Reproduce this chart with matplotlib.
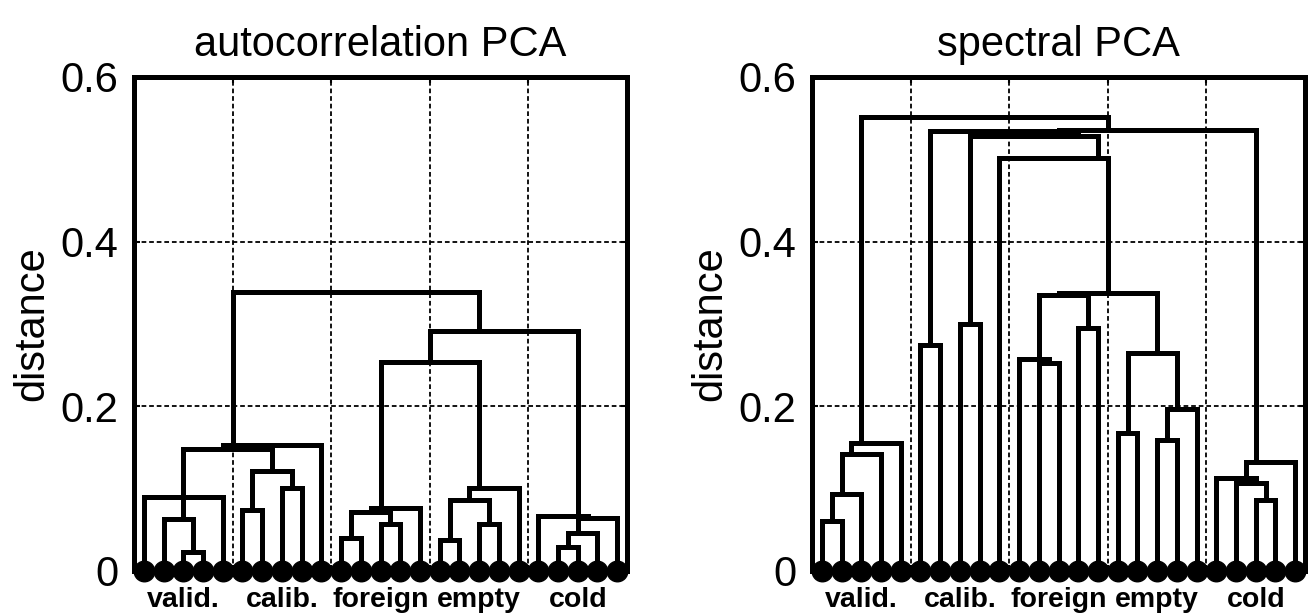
import numpy as np
import matplotlib.pyplot as plt

plt.rcParams["font.family"] = ["Liberation Sans", "DejaVu Sans"]

OUT_PATH = "out.png"

GROUPS = ["valid.", "calib.", "foreign", "empty", "cold"]
GROUP_SIZES = [5, 5, 5, 5, 5]
N_LEAVES = sum(GROUP_SIZES)

# linkage rows (child a, child b, distance); leaves are 1..25,
# merged clusters get ids 26, 27, ... in row order
AUTO_LINKS = [
    (3, 4, 0.023),     # 26
    (2, 26, 0.063),    # 27
    (1, 27, 0.0895),   # 28
    (28, 5, 0.0895),   # 29
    (6, 7, 0.074),     # 30
    (8, 9, 0.100),     # 31
    (30, 31, 0.121),   # 32
    (29, 32, 0.148),   # 33
    (33, 10, 0.152),   # 34
    (11, 12, 0.039),   # 35
    (13, 14, 0.057),   # 36
    (35, 36, 0.0715),  # 37
    (37, 15, 0.0755),  # 38
    (16, 17, 0.037),   # 39
    (18, 19, 0.0565),  # 40
    (39, 40, 0.086),   # 41
    (41, 20, 0.100),   # 42
    (22, 23, 0.028),   # 43
    (43, 24, 0.045),   # 44
    (44, 25, 0.0635),  # 45
    (21, 45, 0.066),   # 46
    (38, 42, 0.254),   # 47
    (47, 46, 0.291),   # 48
    (34, 48, 0.339),   # 49
]

SPECTRAL_LINKS = [
    (1, 2, 0.0606),    # 26
    (26, 3, 0.093),    # 27
    (27, 4, 0.1416),   # 28
    (28, 5, 0.1554),   # 29
    (6, 7, 0.274),     # 30
    (8, 9, 0.300),     # 31
    (12, 13, 0.252),   # 32
    (11, 32, 0.2568),  # 33
    (14, 15, 0.2945),  # 34
    (16, 17, 0.1668),  # 35
    (18, 19, 0.1587),  # 36
    (36, 20, 0.196),   # 37
    (35, 37, 0.2648),  # 38
    (33, 34, 0.335),   # 39
    (39, 38, 0.337),   # 40
    (10, 40, 0.502),   # 41
    (31, 41, 0.528),   # 42
    (30, 42, 0.534),   # 43
    (23, 24, 0.0857),  # 44
    (22, 44, 0.106),   # 45
    (21, 45, 0.112),   # 46
    (46, 25, 0.1323),  # 47
    (43, 47, 0.536),   # 48
    (29, 48, 0.5517),  # 49
]

PANELS = [("autocorrelation PCA", AUTO_LINKS), ("spectral PCA", SPECTRAL_LINKS)]
Y_TICKS = [0, 0.2, 0.4, 0.6]
Y_TICK_LABELS = ["0", "0.2", "0.4", "0.6"]


def draw_dendrogram(ax, links):
    leaves = range(1, N_LEAVES + 1)
    xs = {k: float(k) for k in leaves}
    ns = {k: 1 for k in leaves}
    hs = {k: 0.0 for k in leaves}
    for i, (a, b, h) in enumerate(links):
        node = N_LEAVES + 1 + i
        ax.plot([xs[a], xs[a], xs[b], xs[b]], [hs[a], h, h, hs[b]],
                color="k", lw=3.6, solid_joinstyle="miter",
                solid_capstyle="butt", zorder=3)
        ns[node] = ns[a] + ns[b]
        xs[node] = (xs[a] * ns[a] + xs[b] * ns[b]) / ns[node]
        hs[node] = h
    ax.plot(list(leaves), np.zeros(N_LEAVES), "o", color="k", ms=14.8,
            clip_on=False, zorder=4)


def main():
    fig = plt.figure(figsize=(13.08, 6.16), dpi=100)
    lefts = [134 / 1308, 812 / 1308]
    bottom = (616 - 570.5) / 616
    width = 493 / 1308
    height = 493.5 / 616

    bounds = np.cumsum(GROUP_SIZES)
    group_centers = bounds - (np.array(GROUP_SIZES) - 1) / 2

    for left, (title, links) in zip(lefts, PANELS):
        ax = fig.add_axes([left, bottom, width, height])
        draw_dendrogram(ax, links)

        ax.set_xlim(0.5, N_LEAVES + 0.5)
        ax.set_ylim(0, 0.6)
        ax.set_xticks(bounds[:-1] + 0.5)
        ax.set_xticklabels([])
        ax.set_yticks(Y_TICKS)
        ax.set_yticklabels(Y_TICK_LABELS)
        ax.grid(True, color="k", lw=1.3, ls=(0, (2.6, 1.6)))
        ax.tick_params(direction="in", length=4, width=1.5, top=True,
                       right=True, labelsize=30, pad=11)
        for sp in ax.spines.values():
            sp.set_linewidth(3.6)

        ax.set_title(title, fontsize=30, pad=15)
        ax.set_ylabel("distance", fontsize=30, labelpad=6)

        for name, cx in zip(GROUPS, group_centers):
            ax.annotate(name, xy=(cx, 0), xycoords=("data", "axes fraction"),
                        xytext=(0, -26.5), textcoords="offset points",
                        ha="center", va="baseline", fontsize=20.5,
                        fontweight="bold", annotation_clip=False)

    fig.savefig(OUT_PATH, dpi=100)
    plt.close(fig)


if __name__ == "__main__":
    main()
